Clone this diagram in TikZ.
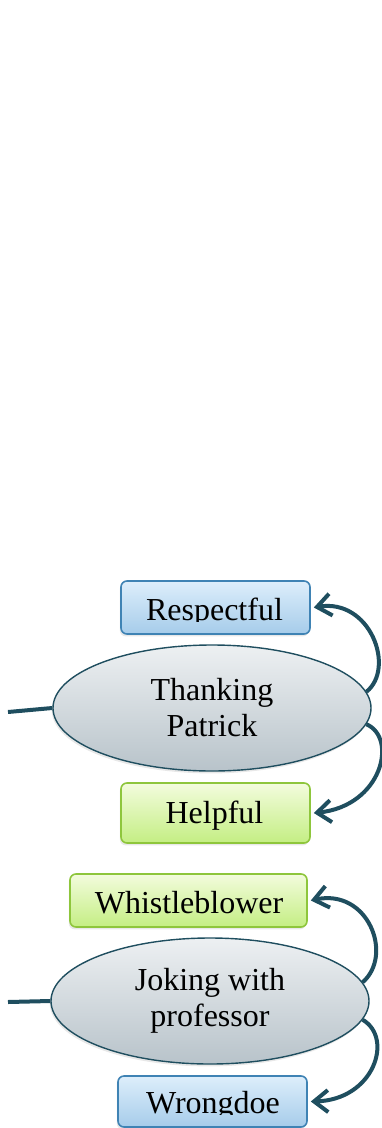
\documentclass[tikz,border=0pt]{standalone}
\usepackage{fontspec}
\setmainfont{Liberation Serif}
\usetikzlibrary{arrows.meta,shapes.geometric,shadows}

\definecolor{linkc}{HTML}{1F4E5F}
\definecolor{bluetop}{HTML}{DDEEFB}
\definecolor{bluebot}{HTML}{A6CCEA}
\definecolor{blueedge}{HTML}{3F83B4}
\definecolor{greentop}{HTML}{F3FCDD}
\definecolor{greenbot}{HTML}{C4EE83}
\definecolor{greenedge}{HTML}{8EC63C}
\definecolor{greytop}{HTML}{EDF0F2}
\definecolor{greybot}{HTML}{B8C3CA}

\tikzset{
  lbl/.style={font=\fontsize{16}{18}\selectfont, inner sep=0pt, anchor=base},
  soft/.style={drop shadow={opacity=0.18, shadow xshift=-0.6pt, shadow yshift=-1.2pt}},
  bluebox/.style={draw=blueedge, line width=0.8pt, rounded corners=3pt,
    top color=bluetop, bottom color=bluebot, soft, inner sep=0pt},
  greenbox/.style={draw=greenedge, line width=0.8pt, rounded corners=3pt,
    top color=greentop, bottom color=greenbot, soft, inner sep=0pt},
  oval/.style={ellipse, draw=linkc, line width=0.7pt, top color=greytop,
    bottom color=greybot, soft, minimum width=159pt, minimum height=63pt,
    inner sep=0pt, align=center, font=\fontsize{16}{18}\selectfont},
  link/.style={draw=linkc, line width=2pt},
  curl/.style={link, -{Straight Barb[length=7pt,width=11pt]}},
}

\begin{document}
\begin{tikzpicture}[x=0.5pt, y=-0.5pt]
\useasboundingbox (0,0) rectangle (381,1128);

% ---- first group ----
\node[bluebox, minimum width=94.5pt, minimum height=26.5pt] (r1) at (215.5,607.5) {};
\begin{scope}
  \clip (121,580) rectangle (310,621);
  \node[lbl] (r1t) at (214.5,620) {Respectful};
\end{scope}

\node[oval] (t1) at (212,708) {Thanking\\Patrick};

\node[greenbox, minimum width=94.5pt, minimum height=30pt] (h1) at (215.5,813) {};
\node[lbl] (h1t) at (214.5,823) {Helpful};

\coordinate (l1) at (8,712);
\draw[link] (l1) -- (t1.west);

\draw[curl] (t1.6) .. controls (396,668) and (370,598) .. ([xshift=1.5pt]r1.east);
\draw[curl] (t1.-6) .. controls (398,738) and (382,806) .. ([xshift=1.5pt]h1.east);

% ---- second group ----
\node[greenbox, minimum width=118.5pt, minimum height=26.5pt] (w2) at (188.5,900.5) {};
\begin{scope}
  \clip (70,872) rectangle (307,914);
  \node[lbl] (w2t) at (189,913) {Whistleblower};
\end{scope}

\node[oval] (t2) at (210,1001) {Joking with\\professor};

\node[bluebox, minimum width=94.5pt, minimum height=25.5pt] (g2) at (212.5,1101.5) {};
\begin{scope}
  \clip (118,1074) rectangle (307,1114);
  \node[lbl] (g2t) at (213,1113) {Wrongdoe};
\end{scope}

\coordinate (l2) at (8,1002);
\draw[link] (l2) -- (t2.west);

\draw[curl] (t2.7) .. controls (394,955) and (368,888) .. ([xshift=1.5pt]w2.east);
\draw[curl] (t2.-7) .. controls (394,1038) and (374,1100) .. ([xshift=1.5pt]g2.east);
\end{tikzpicture}
\end{document}
